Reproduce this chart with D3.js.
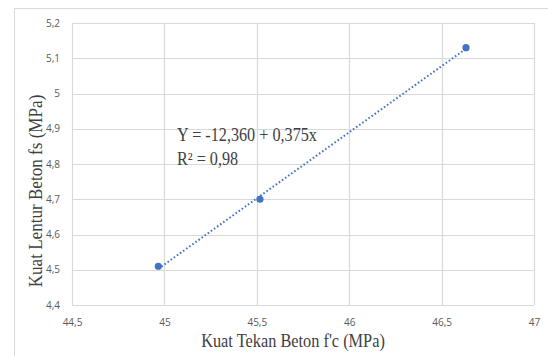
<!DOCTYPE html>
<html>
<head>
<meta charset="utf-8">
<script src="https://cdn.jsdelivr.net/npm/d3@7/dist/d3.min.js"></script>
<style>
  html, body { margin: 0; padding: 0; background: #fff; }
  svg { display: block; }
</style>
</head>
<body>
<svg id="chart" width="548" height="356"></svg>
<script>
// Compressive strength f'c (MPa) vs flexural strength fs (MPa)
const fcValues = [44.967, 45.517, 46.632];
const fsValues = [4.51, 4.70, 5.13];
const xTicks = [44.5, 45, 45.5, 46, 46.5, 47];
const yTicks = [4.4, 4.5, 4.6, 4.7, 4.8, 4.9, 5.0, 5.1, 5.2];
const trendIntercept = -12.360;
const trendSlope = 0.375;
const equationLines = ["Y = -12,360 + 0,375x", "R² = 0,98"];
const xTitle = "Kuat Tekan Beton f'c (MPa)";
const yTitle = "Kuat Lentur Beton fs (MPa)";

const svg = d3.select("#chart");
const plot = { left: 72, right: 534, top: 23, bottom: 305 };

const x = d3.scaleLinear().domain([44.5, 47]).range([plot.left, plot.right]);
const y = d3.scaleLinear().domain([4.4, 5.2]).range([plot.bottom, plot.top]);

const fmt = v => String(+v.toFixed(1)).replace(".", ",");

// outer chart frame
svg.append("rect")
  .attr("x", 14.5).attr("y", 8.5)
  .attr("width", 560).attr("height", 360)
  .attr("fill", "none").attr("stroke", "#d9d9d9").attr("stroke-width", 1);

// gridlines
const grid = svg.append("g");
grid.selectAll(".vx").data(xTicks).join("line")
  .attr("x1", d => Math.round(x(d)) + 0.5).attr("x2", d => Math.round(x(d)) + 0.5)
  .attr("y1", plot.top).attr("y2", plot.bottom)
  .attr("stroke", "#d9d9d9").attr("stroke-width", 1.2);
grid.selectAll(".hy").data(yTicks).join("line")
  .attr("x1", plot.left).attr("x2", plot.right)
  .attr("y1", d => Math.round(y(d)) + 0.5).attr("y2", d => Math.round(y(d)) + 0.5)
  .attr("stroke", "#d9d9d9").attr("stroke-width", 1.2);

// axes (labels only, lines drawn by grid)
const xAxis = d3.axisBottom(x).tickValues(xTicks).tickFormat(fmt).tickSize(0).tickPadding(14);
const yAxis = d3.axisLeft(y).tickValues(yTicks).tickFormat(fmt).tickSize(0).tickPadding(12);

const gx = svg.append("g").attr("transform", `translate(0,${plot.bottom})`).call(xAxis);
const gy = svg.append("g").attr("transform", `translate(${plot.left},0)`).call(yAxis);
[gx, gy].forEach(g => {
  g.select(".domain").remove();
  g.selectAll("text")
    .attr("fill", "#595959")
    .style("font-family", "'Open Sans', 'DejaVu Sans', sans-serif")
    .style("font-size", "10px");
});

// linear trendline across the data range
const x0 = d3.min(fcValues), x1 = d3.max(fcValues);
svg.append("line")
  .attr("x1", x(x0)).attr("y1", y(trendIntercept + trendSlope * x0))
  .attr("x2", x(x1)).attr("y2", y(trendIntercept + trendSlope * x1))
  .attr("stroke", "#4472c4").attr("stroke-width", 2)
  .attr("stroke-dasharray", "1.6,2.2");

// data points
svg.selectAll(".pt").data(fcValues).join("circle")
  .attr("cx", d => x(d)).attr("cy", (d, i) => y(fsValues[i]))
  .attr("r", 3.6).attr("fill", "#4472c4");

// equation
const serif = "'Liberation Serif', 'Times New Roman', serif";
const eq = svg.append("g").attr("transform", "translate(177,141) scale(0.9,1)");
eq.selectAll("text").data(equationLines).join("text")
  .attr("x", 0).attr("y", (d, i) => i * 24)
  .attr("fill", "#404040")
  .style("font-family", serif).style("font-size", "18px")
  .text(d => d);

// axis titles
svg.append("g").attr("transform", "translate(293,347) scale(0.86,1)")
  .append("text").attr("text-anchor", "middle")
  .attr("fill", "#404040")
  .style("font-family", serif).style("font-size", "19px")
  .text(xTitle);

svg.append("g").attr("transform", "translate(42,191) rotate(-90) scale(0.9,1)")
  .append("text").attr("text-anchor", "middle")
  .attr("fill", "#404040")
  .style("font-family", serif).style("font-size", "19px")
  .text(yTitle);
</script>
</body>
</html>
